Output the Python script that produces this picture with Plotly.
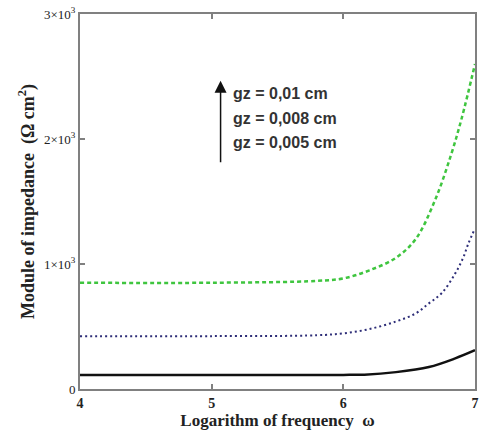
import plotly.graph_objects as go

# Data
x_green = [4, 5, 5.8, 6.0, 6.2, 6.4, 6.55, 6.7, 6.82, 6.9, 7.0]
y_green = [850, 850, 865, 885, 950, 1050, 1200, 1520, 1880, 2170, 2600]

x_navy = [4, 5, 5.8, 6.0, 6.2, 6.4, 6.55, 6.65, 6.75, 6.85, 6.91, 6.95, 7.0]
y_navy = [423, 423, 430, 445, 480, 540, 605, 685, 770, 925, 1050, 1165, 1285]

x_black = [4, 5, 6.0, 6.16, 6.4, 6.65, 6.85, 7.0]
y_black = [112, 112, 113, 115, 135, 176, 245, 310]

x_ticks = [4, 5, 6, 7]
y_ticks = [0, 1000, 2000, 3000]
y_ticklabels = ["0", "1×10<sup>3</sup>", "2×10<sup>3</sup>", "3×10<sup>3</sup>"]
labels = ["gz = 0,01 cm", "gz = 0,008 cm", "gz = 0,005 cm"]

fig = go.Figure()
fig.add_trace(go.Scatter(x=x_green, y=y_green, mode="lines", line=dict(color="#3fc53f", width=2.5, dash="4px,3px", shape="spline", smoothing=1.0)))
fig.add_trace(go.Scatter(x=x_navy, y=y_navy, mode="lines", line=dict(color="#2e2e78", width=2, dash="2px,3px", shape="spline")))
fig.add_trace(go.Scatter(x=x_black, y=y_black, mode="lines", line=dict(color="#111111", width=2.5, shape="spline")))

serif = "Liberation Serif, Times New Roman, serif"
axis_common = dict(showline=True, linecolor="#808080", linewidth=2, mirror="ticks",
                   ticks="inside", ticklen=5, tickcolor="#808080", tickwidth=1.5,
                   showgrid=False, zeroline=False)

L, R, T, B = 80, 479, 13, 389

fig.update_layout(
    width=484, height=436,
    margin=dict(l=L, r=484 - R, t=T, b=436 - B),
    plot_bgcolor="white", paper_bgcolor="white",
    showlegend=False,
    xaxis=dict(range=[4, 7], tickvals=x_ticks, ticktext=["<b>%d</b>" % v for v in x_ticks],
               tickfont=dict(family=serif, size=14, color="#222"),
               title=dict(text="<b>Logarithm of frequency  ω</b>", font=dict(family=serif, size=17, color="#222"), standoff=2),
               **axis_common),
    yaxis=dict(range=[0, 3000], tickvals=y_ticks, ticktext=y_ticklabels,
               tickfont=dict(family=serif, size=13, color="#222"),
               title=dict(text="<b>Module of impedance  (Ω cm<sup>2</sup>)</b>", font=dict(family=serif, size=18, color="#222"), standoff=5),
               **axis_common),
)

def px2paper(px, py):
    return (px - L) / (R - L), (B - py) / (B - T)

for t, yy in zip(labels, [93, 118, 142]):
    xx, yp = px2paper(233, yy)
    fig.add_annotation(x=xx, y=yp, xref="paper", yref="paper", text="<b>" + t + "</b>",
                       showarrow=False, xanchor="left", yanchor="middle",
                       font=dict(family="Liberation Sans, Arial, sans-serif", size=16, color="#333"))

# upward arrow
hx, hy = px2paper(222, 80)
fig.add_annotation(x=hx, y=hy, ax=0, ay=83, xref="paper", yref="paper", axref="pixel", ayref="pixel",
                   text="", showarrow=True, arrowhead=2, arrowsize=1.6, arrowwidth=1.5, arrowcolor="#111")

fig.write_html("out.html")
